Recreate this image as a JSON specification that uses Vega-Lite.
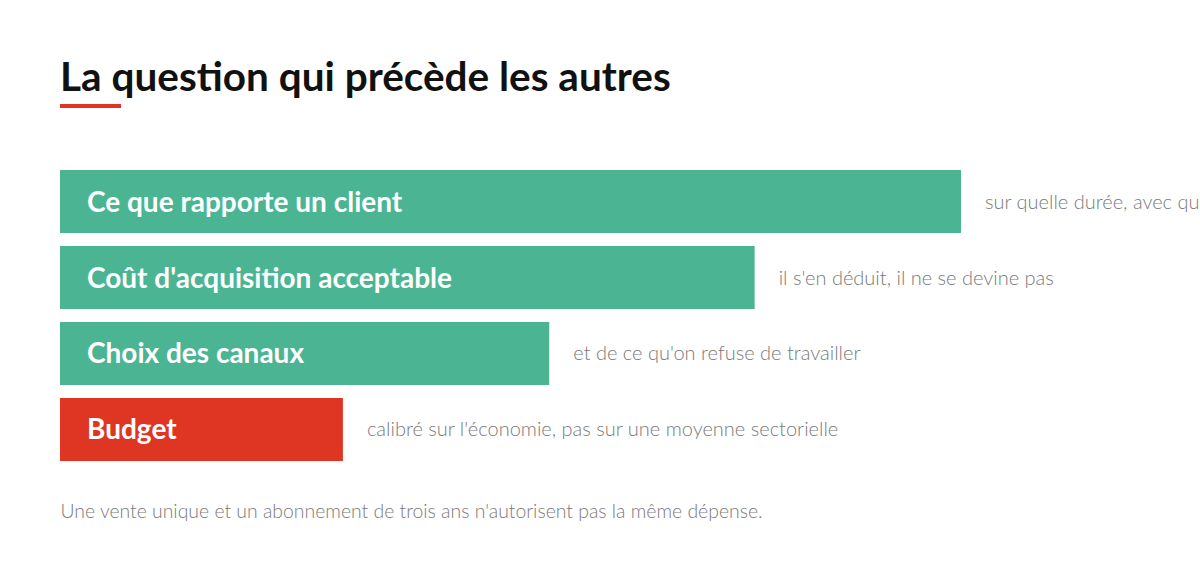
{
  "$schema": "https://vega.github.io/schema/vega-lite/v6.json",
  "width": 1200,
  "height": 568,
  "autosize": {"type": "none"},
  "padding": 0,
  "background": "white",
  "config": {"view": {"stroke": null}, "font": "Lato"},
  "title": {
    "text": "La question qui précède les autres",
    "anchor": "start",
    "frame": "group",
    "orient": "top",
    "offset": 0,
    "baseline": "alphabetic",
    "dx": 60,
    "dy": 131,
    "fontSize": 40.5,
    "fontWeight": "bold",
    "color": "#111111"
  },
  "data": {
    "values": [
      {"label": "Ce que rapporte un client", "note": "sur quelle durée, avec quelle marge", "value": 100, "kind": "amont"},
      {"label": "Coût d'acquisition acceptable", "note": "il s'en déduit, il ne se devine pas", "value": 77.1, "kind": "amont"},
      {"label": "Choix des canaux", "note": "et de ce qu'on refuse de travailler", "value": 54.3, "kind": "amont"},
      {"label": "Budget", "note": "calibré sur l'économie, pas sur une moyenne sectorielle", "value": 31.4, "kind": "budget"}
    ]
  },
  "encoding": {
    "y": {
      "field": "label",
      "type": "nominal",
      "sort": null,
      "axis": null,
      "scale": {"range": [170, 461], "paddingInner": 0.171, "paddingOuter": 0}
    }
  },
  "layer": [
    {
      "mark": {"type": "bar", "cornerRadius": 0},
      "encoding": {
        "x": {
          "field": "value",
          "type": "quantitative",
          "scale": {"domain": [0, 100], "range": [60, 961]},
          "axis": {
            "domain": false,
            "ticks": false,
            "labels": false,
            "grid": false,
            "title": "Une vente unique et un abonnement de trois ans n'autorisent pas la même dépense.",
            "titleAlign": "left",
            "titleBaseline": "alphabetic",
            "titleX": 60,
            "titleY": -51,
            "titleFontSize": 19.4,
            "titleFontWeight": 300,
            "titleColor": "#7a7a7a"
          }
        },
        "color": {
          "field": "kind",
          "type": "nominal",
          "scale": {"domain": ["amont", "budget"], "range": ["#4bb593", "#de3623"]},
          "legend": null
        }
      }
    },
    {
      "mark": {"type": "text", "align": "left", "baseline": "middle", "dx": 27, "dy": 2, "fontSize": 28, "fontWeight": "bold", "color": "white"},
      "encoding": {
        "x": {"datum": 0, "type": "quantitative"},
        "text": {"field": "label"}
      }
    },
    {
      "mark": {"type": "text", "align": "left", "baseline": "middle", "dx": 24, "dy": 1, "fontSize": 20, "fontWeight": 300, "color": "#7a7a7a"},
      "encoding": {
        "x": {"field": "value", "type": "quantitative"},
        "text": {"field": "note"}
      }
    },
    {
      "data": {"values": [{"start": 0, "end": 6.77}]},
      "mark": {"type": "rule", "strokeWidth": 4, "color": "#de3623"},
      "encoding": {
        "x": {"field": "start", "type": "quantitative"},
        "x2": {"field": "end"},
        "y": {"value": 106}
      }
    }
  ]
}
